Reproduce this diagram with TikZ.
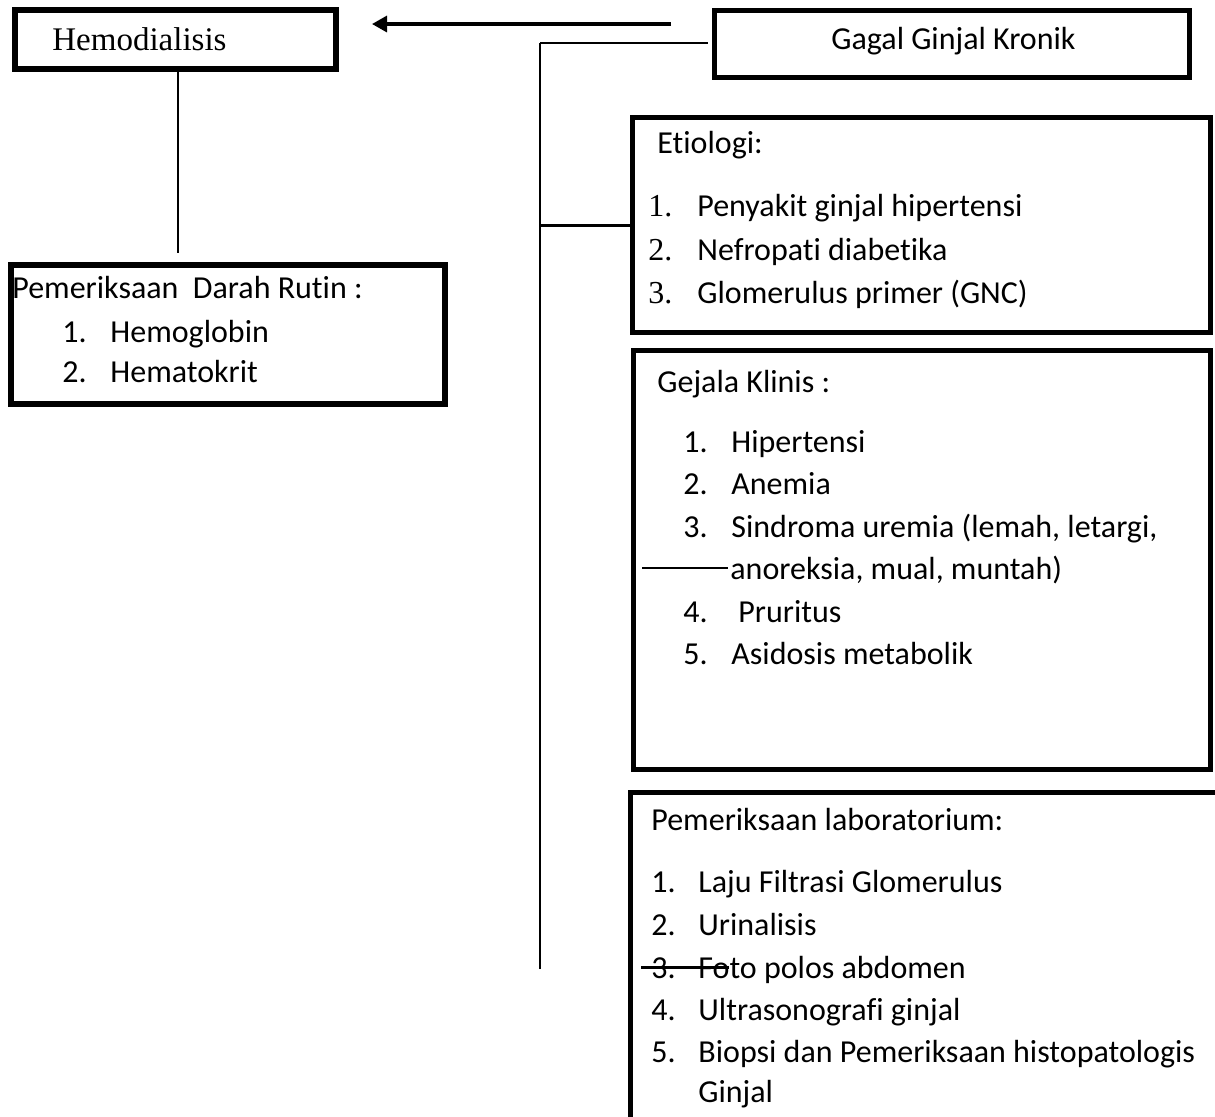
\documentclass[tikz,border=0pt]{standalone}
\usepackage{fontspec}
\setmainfont{Carlito}[Ligatures={NoCommon,NoRare,NoContextual},Contextuals=NoAlternate]
\newfontfamily\timesfont{Liberation Serif}
\usetikzlibrary{arrows.meta}

\begin{document}
\begin{tikzpicture}[x=0.5pt, y=-0.5pt,
  box/.style={draw, line width=2.5pt, inner sep=0pt},
  txt/.style={anchor=base west, inner sep=0pt, font=\fontsize{16}{19}\selectfont},
  serif/.style={anchor=base west, inner sep=0pt, font=\timesfont\fontsize{16}{19}\selectfont}]
  \clip (0,0) rectangle (1215,1116);
  \fill[white] (0,0) rectangle (1215,1116);

  % boxes
  \node[box, line width=3pt, minimum width=160.5pt, minimum height=29.5pt] (hemo) at (175.5,39.5) {};
  \node[box, minimum width=237.5pt, minimum height=33.5pt] (gagal) at (952,44) {};
  \node[box, line width=3pt, minimum width=217pt, minimum height=69.5pt] (darah) at (228,334.5) {};
  \node[box, minimum width=289pt, minimum height=107.5pt] (etio) at (921.5,225) {};
  \node[box, minimum width=288.5pt, minimum height=209.5pt] (gejala) at (922,560) {};
  \node[box, minimum width=299.75pt, minimum height=173.75pt] (lab) at (930.25,966.25) {};

  % titles
  \node[serif, font=\timesfont\fontsize{16.5}{19}\selectfont] (hemotxt) at (52,50) {Hemodialisis};
  \node[txt] (gagaltxt) at (831,49) {Gagal Ginjal Kronik};

  % Pemeriksaan darah rutin
  \node[txt] (darahtxt) at (12,298) {Pemeriksaan\ \ Darah Rutin :};
  \node[txt] (darahn1) at (62,342) {1.};
  \node[txt] (darah1) at (110,342) {Hemoglobin};
  \node[txt] (darahn2) at (62,382) {2.};
  \node[txt] (darah2) at (110,382) {Hematokrit};

  % Etiologi
  \node[txt] (etiotxt) at (657,153) {Etiologi:};
  \node[serif] (etion1) at (648,216) {1.};
  \node[txt] (etio1) at (697,216) {Penyakit ginjal hipertensi};
  \node[serif] (etion2) at (648,260) {2.};
  \node[txt] (etio2) at (697,260) {Nefropati diabetika};
  \node[serif] (etion3) at (648,303) {3.};
  \node[txt] (etio3) at (697,303) {Glomerulus primer (GNC)};

  % Gejala klinis
  \node[txt] (gejalatxt) at (657,392) {Gejala Klinis :};
  \node[txt] (gejalan1) at (683,452) {1.};
  \node[txt] (gejala1) at (731,452) {Hipertensi};
  \node[txt] (gejalan2) at (683,494) {2.};
  \node[txt] (gejala2) at (731,494) {Anemia};
  \node[txt] (gejalan3) at (683,537) {3.};
  \node[txt] (gejala3) at (731,537) {Sindroma uremia (lemah, letargi,};
  \node[txt] (gejala3b) at (730,579) {anoreksia, mual, muntah)};
  \node[txt] (gejalan4) at (683,622) {4.};
  \node[txt] (gejala4) at (738,622) {Pruritus};
  \node[txt] (gejalan5) at (683,664) {5.};
  \node[txt] (gejala5) at (731,664) {Asidosis metabolik};

  % Pemeriksaan laboratorium
  \node[txt] (labtxt) at (651,830) {Pemeriksaan laboratorium:};
  \node[txt] (labn1) at (651,892) {1.};
  \node[txt] (lab1) at (698,892) {Laju Filtrasi Glomerulus};
  \node[txt] (labn2) at (651,935) {2.};
  \node[txt] (lab2) at (698,935) {Urinalisis};
  \node[txt] (labn3) at (651,978) {3.};
  \node[txt] (lab3) at (698,978) {Foto polos abdomen};
  \node[txt] (labn4) at (651,1020) {4.};
  \node[txt] (lab4) at (698,1020) {Ultrasonografi ginjal};
  \node[txt] (labn5) at (651,1062) {5.};
  \node[txt] (lab5) at (698,1062) {Biopsi dan Pemeriksaan histopatologis};
  \node[txt] (lab5b) at (698,1102) {Ginjal};

  % free ends of the lines
  \coordinate (arrstart) at (671,24);
  \coordinate (arrtip) at (372,24);
  \coordinate (dtop) at (178,253);
  \coordinate (trunktop) at (540,43);
  \coordinate (trunkend) at (540,969);
  \coordinate (gagalin) at (708,43);
  \coordinate (gstart) at (642,568);
  \coordinate (gend) at (728,568);
  \coordinate (sstart) at (641,967);
  \coordinate (send) at (729,967);

  % connectors
  \draw[line width=1.6pt, -{Triangle[length=7.5pt, width=8pt]}] (arrstart) -- (arrtip);
  \draw[line width=1pt] (dtop |- hemo.south) -- (dtop);
  \draw[line width=0.75pt] (trunkend) -- (trunktop);
  \draw[line width=1pt] (trunktop) -- (gagalin);
  \draw[line width=1.5pt] (trunktop |- etio.west) -- (etio.west);
  \draw[line width=1pt] (gstart) -- (gend);
  \draw[line width=1.5pt] (sstart) -- (send);
\end{tikzpicture}
\end{document}
